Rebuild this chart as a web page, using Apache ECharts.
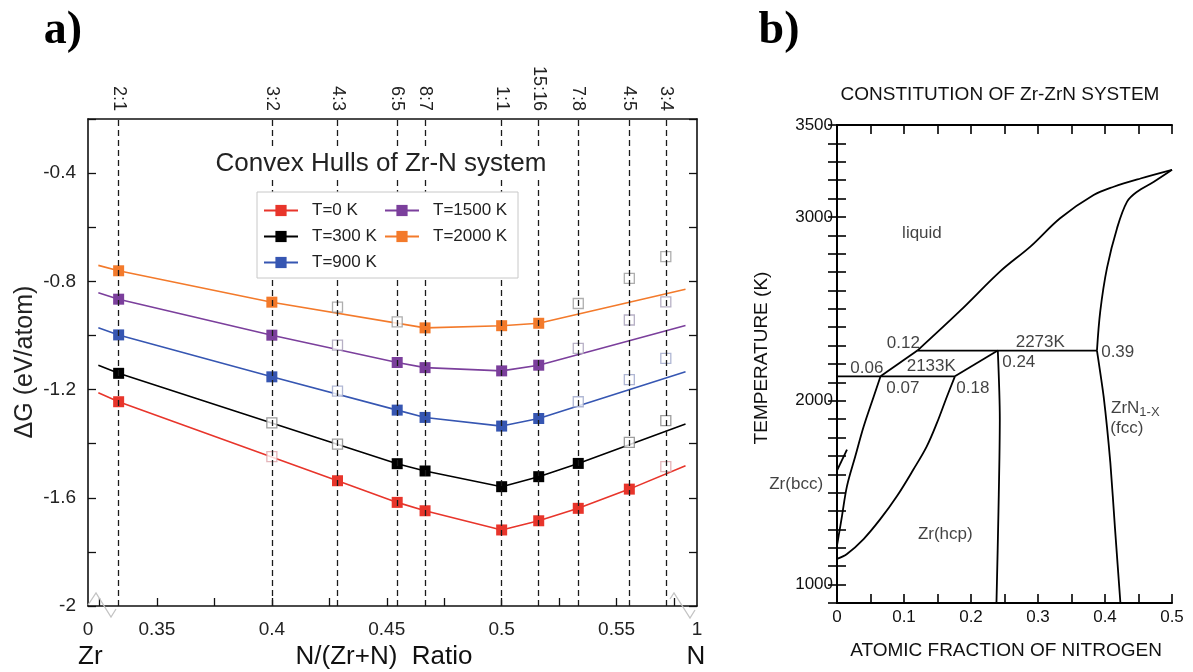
<!DOCTYPE html>
<html>
<head>
<meta charset="utf-8">
<script src="https://cdn.jsdelivr.net/npm/echarts@6/dist/echarts.min.js"></script>
<style>
  html, body { margin: 0; padding: 0; background: #fff; }
  #chart { width: 1193px; height: 672px; }
</style>
</head>
<body>
<div id="chart"></div>
<script>
// ---------- Panel a: convex hulls of the Zr-N system ----------
// Zr:N stoichiometries and their nitrogen fraction N/(Zr+N)
const ratioLabels = ['2:1', '3:2', '4:3', '6:5', '8:7', '1:1', '15:16', '7:8', '4:5', '3:4'];
const ratioX = [1 / 3, 2 / 5, 3 / 7, 5 / 11, 7 / 15, 1 / 2, 16 / 31, 8 / 15, 5 / 9, 4 / 7];

const temperatures = ['T=0 K', 'T=300 K', 'T=900 K', 'T=1500 K', 'T=2000 K'];

// formation free energy (eV/atom) at each stoichiometry, per temperature
const dG_0K    = [-1.245, -1.448, -1.537, -1.617, -1.648, -1.719, -1.685, -1.639, -1.568, -1.485];
const dG_300K  = [-1.140, -1.323, -1.402, -1.474, -1.501, -1.559, -1.522, -1.473, -1.395, -1.315];
const dG_900K  = [-0.998, -1.153, -1.206, -1.276, -1.303, -1.335, -1.307, -1.245, -1.163, -1.085];
const dG_1500K = [-0.866, -0.999, -1.036, -1.100, -1.119, -1.131, -1.110, -1.048, -0.943, -0.876];
const dG_2000K = [-0.761, -0.877, -0.895, -0.950, -0.972, -0.964, -0.955, -0.882, -0.789, -0.709];

// 1 = structure lies on the hull (filled square), 0 = above the hull (open square)
const onHull_0K    = [1, 0, 1, 1, 1, 1, 1, 1, 1, 0];
const onHull_300K  = [1, 0, 0, 1, 1, 1, 1, 1, 0, 0];
const onHull_900K  = [1, 1, 0, 1, 1, 1, 1, 0, 0, 0];
const onHull_1500K = [1, 1, 0, 1, 1, 1, 1, 0, 0, 0];
const onHull_2000K = [1, 1, 0, 0, 1, 1, 1, 0, 0, 0];

// hull lines continue toward the pure elements; values where they leave the visible window
const edgeX = [0.3245, 0.58];
const edge_0K    = [-1.212, -1.482];
const edge_300K  = [-1.110, -1.327];
const edge_900K  = [-0.972, -1.134];
const edge_1500K = [-0.842, -0.963];
const edge_2000K = [-0.741, -0.829];

// broken composition axis: visible window with the end labels "0" and "1"
const tickValuesA = [0.325, 0.35, 0.375, 0.4, 0.425, 0.45, 0.475, 0.5, 0.525, 0.55, 0.575];
const labelValuesA = [0.32, 0.35, 0.4, 0.45, 0.5, 0.55, 0.585];
const tickLabelsA = ['0', '0.35', '0.4', '0.45', '0.5', '0.55', '1'];

// ---------- Panel b: Zr-ZrN phase diagram (x = atomic fraction N, y = temperature K) ----------
const liquidusUpper = [[0.12, 2273], [0.184, 2490], [0.244, 2705], [0.289, 2840], [0.333, 2993],
                       [0.383, 3119], [0.413, 3164], [0.453, 3209], [0.5, 3256]];
const liquidusLower = [[0.065, 2133], [0.12, 2273]];
const fccUpper = [[0.388, 2273], [0.393, 2489], [0.403, 2723], [0.418, 2939], [0.433, 3083],
                  [0.448, 3137], [0.473, 3191], [0.5, 3256]];
const fccLower = [[0.388, 2273], [0.398, 2022], [0.408, 1662], [0.415, 1302], [0.423, 900]];
const line024 = [[0.24, 2273], [0.243, 1900], [0.241, 1400], [0.238, 900]];
const bccSolvus = [[0.065, 2133], [0.0547, 2022], [0.0398, 1860], [0.0273, 1698], [0.0149, 1536],
                   [0.0075, 1374], [0.0025, 1266], [0, 1212]];
const hcpSolvus = [[0.176, 2133], [0.164, 2022], [0.149, 1878], [0.134, 1752], [0.114, 1626],
                   [0.0896, 1482], [0.0646, 1356], [0.0397, 1248], [0.0149, 1167], [0, 1140]];
const iso2133 = [[0, 2133], [0.176, 2133]];
const iso2273 = [[0.12, 2273], [0.388, 2273]];
const hcpToPeritectic = [[0.176, 2133], [0.24, 2273]];
const bccPointer = [[-0.0075, 1563], [0.0149, 1734]];

const phaseLabelText = ['liquid', '0.12', '2273K', '0.39', '0.24', '0.06', '2133K', '0.07', '0.18',
                        'ZrN1-X', '(fcc)', 'Zr(bcc)', 'Zr(hcp)'];
const phaseLabelPos = [[0.1268, 2912], [0.099, 2310], [0.3034, 2318], [0.419, 2264], [0.2713, 2210],
                       [0.0445, 2175], [0.1407, 2187], [0.0982, 2067], [0.2027, 2067],
                       [0.4452, 1959], [0.4325, 1851], [-0.061, 1545], [0.1616, 1275]];

// ---------- styling ----------
const FONT = '"Liberation Sans", Arial, Helvetica, sans-serif';
const seriesColors = ['#e8352b', '#000000', '#3656b2', '#7b3f9c', '#f37a2b'];
const openColors = ['#dda2a9', '#858585', '#9ca5c9', '#a59cb6', '#9a9a9a'];

const dGs = [dG_0K, dG_300K, dG_900K, dG_1500K, dG_2000K];
const hulls = [onHull_0K, onHull_300K, onHull_900K, onHull_1500K, onHull_2000K];
const edges = [edge_0K, edge_300K, edge_900K, edge_1500K, edge_2000K];

const near = (a, b) => Math.abs(a - b) < 1e-6;

const seriesList = [];

temperatures.forEach((name, k) => {
  const hullPts = [{ value: [edgeX[0], edges[k][0]], symbol: 'none' }];
  const openPts = [];
  dGs[k].forEach((v, i) => {
    if (hulls[k][i]) hullPts.push([ratioX[i], v]);
    else openPts.push([ratioX[i], v]);
  });
  hullPts.push({ value: [edgeX[1], edges[k][1]], symbol: 'none' });

  seriesList.push({
    name, type: 'line', xAxisIndex: 0, yAxisIndex: 0,
    data: hullPts, symbol: 'rect', symbolSize: 11, showAllSymbol: true,
    lineStyle: { color: seriesColors[k], width: 1.6 },
    itemStyle: { color: seriesColors[k] },
    z: 2, silent: true
  });
  seriesList.push({
    name, type: 'scatter', xAxisIndex: 0, yAxisIndex: 0,
    data: openPts, symbol: 'rect', symbolSize: 10,
    itemStyle: { color: '#ffffff', borderColor: openColors[k], borderWidth: 1.3 },
    z: 3, silent: true
  });
});

// vertical dashed guides at each stoichiometry
seriesList.push({
  type: 'lines', coordinateSystem: 'cartesian2d', xAxisIndex: 0, yAxisIndex: 0,
  z: 5, silent: true, polyline: false,
  lineStyle: { color: '#1a1a1a', type: [6, 4], width: 1.3, opacity: 1 },
  data: ratioX.map(x => ({ coords: [[x, -2], [x, -0.2]] }))
});

// phase boundaries
const boundaryStyle = { color: '#000', width: 1.8 };
[
  [liquidusUpper, 0.35], [fccUpper, 0.35], [fccLower, 0.2], [line024, 0.3],
  [bccSolvus, 0.35], [hcpSolvus, 0.35], [liquidusLower, 0], [iso2133, 0], [iso2273, 0],
  [hcpToPeritectic, 0], [bccPointer, 0]
].forEach(([pts, smooth], idx) => {
  seriesList.push({
    type: 'line', xAxisIndex: 2, yAxisIndex: 2, data: pts, smooth,
    symbol: 'none', lineStyle: boundaryStyle, silent: true,
    clip: idx !== 10, z: 2
  });
});

// phase-field and point annotations
seriesList.push({
  type: 'scatter', xAxisIndex: 2, yAxisIndex: 2, symbolSize: 0, silent: true, clip: false,
  data: phaseLabelText.map((t, i) => ({ name: t, value: phaseLabelPos[i] })),
  label: {
    show: true, position: 'inside', color: '#111', fontFamily: FONT, fontSize: 17,
    formatter: p => (p.name === 'ZrN1-X' ? 'ZrN{s|1-X}' : p.name),
    rich: { s: { fontSize: 13, fontFamily: FONT, color: '#111', padding: [9, 0, 0, 0] } }
  },
  z: 6
});

const axisLineA = { show: true, lineStyle: { color: '#111', width: 1.6 } };
const axisLineB = { show: true, lineStyle: { color: '#000', width: 2 } };

const legendText = { fontSize: 17, fontFamily: FONT, color: '#222', padding: [0, 0, 0, 9], lineHeight: 14 };

const option = {
  animation: false,
  backgroundColor: '#ffffff',
  grid: [
    { left: 88, top: 119, width: 609, height: 487, show: false },
    { left: 837, top: 125, width: 335, height: 478, show: false }
  ],
  xAxis: [
    {
      gridIndex: 0, type: 'value', position: 'bottom', min: 0.32, max: 0.585,
      axisLine: axisLineA,
      axisTick: { inside: true, length: 8, customValues: tickValuesA, lineStyle: { color: '#111', width: 1.3 } },
      axisLabel: {
        customValues: labelValuesA, fontSize: 19, fontFamily: FONT, color: '#222', margin: 14,
        formatter: v => { const i = labelValuesA.findIndex(x => near(x, v)); return i < 0 ? '' : tickLabelsA[i]; }
      },
      splitLine: { show: false }
    },
    {
      gridIndex: 0, type: 'value', position: 'top', min: 0.32, max: 0.585,
      axisLine: axisLineA, axisTick: { show: false },
      axisLabel: {
        customValues: ratioX, rotate: 90, fontSize: 18, fontFamily: FONT, color: '#222', margin: 8,
        formatter: v => { const i = ratioX.findIndex(x => near(x, v)); return i < 0 ? '' : ratioLabels[i]; }
      },
      splitLine: { show: false }
    },
    {
      gridIndex: 1, type: 'value', position: 'bottom', min: 0, max: 0.5, interval: 0.05,
      axisLine: axisLineB,
      axisTick: { inside: true, length: 9, lineStyle: { color: '#000', width: 1.6 } },
      axisLabel: {
        fontSize: 17, fontFamily: FONT, color: '#111', margin: 6,
        formatter: v => (near(Math.round(v * 10) / 10, v) ? (v === 0 ? '0' : (+v.toFixed(1)).toString()) : '')
      },
      splitLine: { show: false }
    },
    {
      gridIndex: 1, type: 'value', position: 'top', min: 0, max: 0.5, interval: 0.05,
      axisLine: axisLineB,
      axisTick: { inside: true, length: 9, lineStyle: { color: '#000', width: 1.6 } },
      axisLabel: { show: false }, splitLine: { show: false }
    }
  ],
  yAxis: [
    {
      gridIndex: 0, type: 'value', position: 'left', min: -2, max: -0.2, interval: 0.2,
      axisLine: axisLineA,
      axisTick: { inside: true, length: 8, lineStyle: { color: '#111', width: 1.3 } },
      axisLabel: {
        fontSize: 19, fontFamily: FONT, color: '#222', margin: 12,
        formatter: v => (near(Math.round(v / 0.4) * 0.4, v) ? String(+v.toFixed(1)) : '')
      },
      splitLine: { show: false }
    },
    {
      gridIndex: 0, type: 'value', position: 'right', min: -2, max: -0.2, interval: 0.2,
      axisLine: axisLineA,
      axisTick: { inside: true, length: 8, lineStyle: { color: '#111', width: 1.3 } },
      axisLabel: { show: false }, splitLine: { show: false }
    },
    {
      gridIndex: 1, type: 'value', position: 'left', min: 900, max: 3500, interval: 100,
      axisLine: axisLineB,
      axisTick: { inside: true, length: 9, lineStyle: { color: '#000', width: 1.6 } },
      axisLabel: {
        fontSize: 17, fontFamily: FONT, color: '#111', margin: 4,
        formatter: v => ([1000, 2000, 3000, 3500].includes(v) ? String(v) : '')
      },
      splitLine: { show: false }
    },
    {
      gridIndex: 1, type: 'value', position: 'right', min: 900, max: 3500, interval: 100,
      axisLine: axisLineB,
      axisTick: { inside: true, length: 9, lineStyle: { color: '#000', width: 1.6 } },
      axisLabel: { show: false }, splitLine: { show: false }
    }
  ],
  legend: [
    {
      data: temperatures.slice(0, 3), orient: 'vertical', left: 263, top: 202,
      itemWidth: 34, itemHeight: 14, itemGap: 9, padding: 0, z: 12,
      selectedMode: false, textStyle: legendText
    },
    {
      data: temperatures.slice(3), orient: 'vertical', left: 384, top: 202,
      itemWidth: 34, itemHeight: 14, itemGap: 9, padding: 0, z: 12,
      selectedMode: false, textStyle: legendText
    }
  ],
  graphic: [
    // legend frame
    { type: 'rect', z: 10, silent: true,
      shape: { x: 257, y: 192, width: 261, height: 86 },
      style: { fill: '#fff', stroke: '#c8c8c8', lineWidth: 1 } },
    // panel a texts
    { type: 'text', z: 10, silent: true, x: 381, y: 164,
      style: { text: 'Convex Hulls of Zr-N system', fontSize: 26, fontFamily: FONT, fill: '#222',
               align: 'center', verticalAlign: 'middle', textAlign: 'center', textVerticalAlign: 'middle',
               backgroundColor: '#fff', padding: [2, 2] } },
    { type: 'text', z: 10, silent: true, x: 63, y: 31,
      style: { text: 'a)', fontSize: 46, fontWeight: 'bold', fontFamily: '"Liberation Serif", "DejaVu Serif", serif',
               fill: '#000', align: 'center', verticalAlign: 'middle', textAlign: 'center', textVerticalAlign: 'middle' } },
    { type: 'text', z: 10, silent: true, x: 25, y: 362, rotation: Math.PI / 2,
      style: { text: 'ΔG (eV/atom)', fontSize: 25, fontFamily: FONT, fill: '#222',
               align: 'center', verticalAlign: 'middle', textAlign: 'center', textVerticalAlign: 'middle' } },
    { type: 'text', z: 10, silent: true, x: 78, y: 657,
      style: { text: 'Zr', fontSize: 26, fontFamily: FONT, fill: '#111',
               align: 'left', verticalAlign: 'middle', textAlign: 'left', textVerticalAlign: 'middle' } },
    { type: 'text', z: 10, silent: true, x: 384, y: 657,
      style: { text: 'N/(Zr+N)  Ratio', fontSize: 26, fontFamily: FONT, fill: '#111',
               align: 'center', verticalAlign: 'middle', textAlign: 'center', textVerticalAlign: 'middle' } },
    { type: 'text', z: 10, silent: true, x: 696, y: 657,
      style: { text: 'N', fontSize: 26, fontFamily: FONT, fill: '#111',
               align: 'center', verticalAlign: 'middle', textAlign: 'center', textVerticalAlign: 'middle' } },
    // axis-break glyphs at both ends of the composition axis
    { type: 'polyline', z: 10, silent: true,
      shape: { points: [[88, 605], [96, 593], [111, 617], [116, 609]] },
      style: { stroke: '#c4c4c4', lineWidth: 1.3, fill: null } },
    { type: 'polyline', z: 10, silent: true,
      shape: { points: [[670, 599], [674, 593], [690, 618], [695, 610]] },
      style: { stroke: '#c4c4c4', lineWidth: 1.3, fill: null } },
    // panel b texts
    { type: 'text', z: 10, silent: true, x: 779, y: 31,
      style: { text: 'b)', fontSize: 46, fontWeight: 'bold', fontFamily: '"Liberation Serif", "DejaVu Serif", serif',
               fill: '#000', align: 'center', verticalAlign: 'middle', textAlign: 'center', textVerticalAlign: 'middle' } },
    { type: 'text', z: 10, silent: true, x: 1000, y: 95,
      style: { text: 'CONSTITUTION OF Zr-ZrN SYSTEM', fontSize: 19, fontFamily: FONT, fill: '#111',
               align: 'center', verticalAlign: 'middle', textAlign: 'center', textVerticalAlign: 'middle' } },
    { type: 'text', z: 10, silent: true, x: 762, y: 358, rotation: Math.PI / 2,
      style: { text: 'TEMPERATURE (K)', fontSize: 19, fontFamily: FONT, fill: '#111',
               align: 'center', verticalAlign: 'middle', textAlign: 'center', textVerticalAlign: 'middle' } },
    { type: 'text', z: 10, silent: true, x: 1006, y: 651,
      style: { text: 'ATOMIC FRACTION OF NITROGEN', fontSize: 19, fontFamily: FONT, fill: '#111',
               align: 'center', verticalAlign: 'middle', textAlign: 'center', textVerticalAlign: 'middle' } }
  ],
  series: seriesList
};

const chart = echarts.init(document.getElementById('chart'), null, { renderer: 'canvas' });
chart.setOption(option);
</script>
</body>
</html>
